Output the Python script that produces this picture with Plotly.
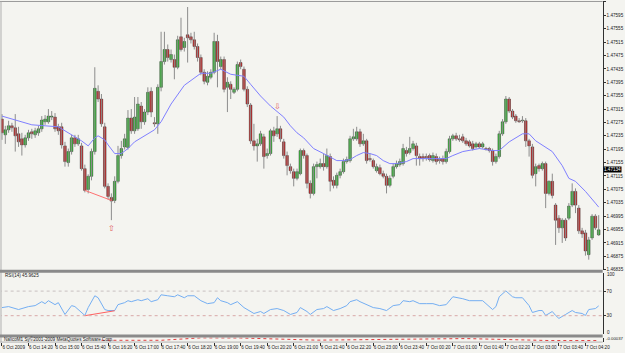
import plotly.graph_objects as go

W, H = 625, 353

# ---------------- data ----------------
x_tick_idx = [0, 8, 16, 24, 32, 40, 48, 56, 64, 72, 80, 88, 96, 104, 112,
              120, 128, 136, 144, 152, 160, 168, 176]
x_tick_text = ["6 Oct 2009", "6 Oct 14:20", "6 Oct 15:00", "6 Oct 15:40",
               "6 Oct 16:20", "6 Oct 17:00", "6 Oct 17:40", "6 Oct 18:20",
               "6 Oct 19:00", "6 Oct 19:40", "6 Oct 20:20", "6 Oct 21:00",
               "6 Oct 21:40", "6 Oct 22:20", "6 Oct 23:00", "6 Oct 23:40",
               "7 Oct 00:20", "7 Oct 01:00", "7 Oct 01:40", "7 Oct 02:20",
               "7 Oct 03:00", "7 Oct 03:40", "7 Oct 04:20"]

price_ticks = [1.46835, 1.46875, 1.46915, 1.46955, 1.46995, 1.47035, 1.47075,
               1.47115, 1.47155, 1.47195, 1.47235, 1.47275, 1.47315, 1.47355,
               1.47395, 1.47435, 1.47475, 1.47515, 1.47555, 1.47595, 1.47635]
price_tick_text = ["1.46835", "1.46875", "1.46915", "1.46955", "1.46995",
                   "1.47035", "1.47075", "1.47115", "1.47155", "1.47195",
                   "1.47235", "1.47275", "1.47315", "1.47355", "1.47395",
                   "1.47435", "1.47475", "1.47515", "1.47555", "1.47595",
                   "1.47635"]

opens = [
    1.47285, 1.47238, 1.47253, 1.47265, 1.47259, 1.47241, 1.47226, 1.47208, 1.47229, 1.47247,
    1.47238, 1.47244, 1.47256, 1.47277, 1.47277, 1.47291, 1.47291, 1.47262, 1.47262, 1.47205,
    1.47155, 1.47188, 1.47229, 1.47211, 1.47205, 1.47137, 1.47075, 1.47114, 1.47188, 1.47368,
    1.47345, 1.47262, 1.47084, 1.47051, 1.47042, 1.47099, 1.47176, 1.47202, 1.47200, 1.47288,
    1.47250, 1.47256, 1.47324, 1.47277, 1.47306, 1.47368, 1.47274, 1.47271, 1.47380, 1.47457,
    1.47493, 1.47463, 1.47463, 1.47440, 1.47531, 1.47499, 1.47537, 1.47531, 1.47522, 1.47502,
    1.47469, 1.47425, 1.47395, 1.47410, 1.47425, 1.47517, 1.47442, 1.47463, 1.47380, 1.47389,
    1.47365, 1.47374, 1.47454, 1.47434, 1.47374, 1.47327, 1.47220, 1.47205, 1.47211, 1.47232,
    1.47176, 1.47182, 1.47250, 1.47241, 1.47256, 1.47217, 1.47176, 1.47143, 1.47128, 1.47108,
    1.47122, 1.47191, 1.47176, 1.47093, 1.47063, 1.47143, 1.47143, 1.47152, 1.47143, 1.47173,
    1.47102, 1.47087, 1.47117, 1.47128, 1.47158, 1.47161, 1.47226, 1.47226, 1.47247, 1.47211,
    1.47220, 1.47167, 1.47161, 1.47131, 1.47140, 1.47122, 1.47114, 1.47087, 1.47114, 1.47143,
    1.47149, 1.47152, 1.47191, 1.47185, 1.47197, 1.47205, 1.47173, 1.47173, 1.47173, 1.47176,
    1.47161, 1.47173, 1.47164, 1.47167, 1.47158, 1.47188, 1.47226, 1.47235, 1.47226, 1.47232,
    1.47220, 1.47217, 1.47211, 1.47202, 1.47211, 1.47202, 1.47197, 1.47197, 1.47191, 1.47158,
    1.47173, 1.47241, 1.47277, 1.47345, 1.47309, 1.47294, 1.47280, 1.47280, 1.47280, 1.47220,
    1.47202, 1.47122, 1.47146, 1.47137, 1.47152, 1.47063, 1.47099, 1.47028, 1.46989, 1.46960,
    1.46983, 1.46989, 1.47028, 1.47069, 1.47019, 1.46951, 1.46945, 1.46880, 1.46930, 1.46995,
    1.46939]
highs = [
    1.47300, 1.47265, 1.47280, 1.47274, 1.47300, 1.47262, 1.47244, 1.47238, 1.47253, 1.47256,
    1.47259, 1.47265, 1.47294, 1.47297, 1.47315, 1.47309, 1.47303, 1.47271, 1.47274, 1.47217,
    1.47197, 1.47238, 1.47238, 1.47238, 1.47214, 1.47149, 1.47120, 1.47197, 1.47440, 1.47386,
    1.47360, 1.47274, 1.47093, 1.47063, 1.47114, 1.47205, 1.47220, 1.47241, 1.47312, 1.47315,
    1.47351, 1.47351, 1.47336, 1.47315, 1.47380, 1.47380, 1.47291, 1.47389, 1.47546, 1.47546,
    1.47508, 1.47493, 1.47478, 1.47534, 1.47588, 1.47528, 1.47620, 1.47543, 1.47546, 1.47511,
    1.47478, 1.47434, 1.47428, 1.47434, 1.47543, 1.47537, 1.47472, 1.47472, 1.47410, 1.47398,
    1.47380, 1.47457, 1.47463, 1.47442, 1.47383, 1.47333, 1.47271, 1.47226, 1.47250, 1.47241,
    1.47197, 1.47256, 1.47262, 1.47294, 1.47265, 1.47226, 1.47188, 1.47152, 1.47137, 1.47137,
    1.47197, 1.47197, 1.47182, 1.47102, 1.47152, 1.47158, 1.47167, 1.47182, 1.47197, 1.47182,
    1.47114, 1.47125, 1.47137, 1.47167, 1.47173, 1.47235, 1.47256, 1.47262, 1.47256, 1.47241,
    1.47226, 1.47182, 1.47167, 1.47152, 1.47149, 1.47131, 1.47122, 1.47117, 1.47152, 1.47161,
    1.47167, 1.47211, 1.47202, 1.47232, 1.47220, 1.47214, 1.47182, 1.47182, 1.47182, 1.47182,
    1.47185, 1.47182, 1.47173, 1.47176, 1.47197, 1.47235, 1.47241, 1.47244, 1.47238, 1.47241,
    1.47229, 1.47223, 1.47220, 1.47217, 1.47217, 1.47217, 1.47202, 1.47202, 1.47197, 1.47182,
    1.47250, 1.47285, 1.47354, 1.47351, 1.47315, 1.47300, 1.47288, 1.47294, 1.47288, 1.47226,
    1.47211, 1.47152, 1.47152, 1.47158, 1.47158, 1.47102, 1.47122, 1.47034, 1.46998, 1.46989,
    1.46989, 1.47034, 1.47093, 1.47078, 1.47028, 1.46960, 1.46954, 1.46933, 1.47001, 1.47001,
    1.46998]
lows = [
    1.47223, 1.47211, 1.47244, 1.47247, 1.47188, 1.47202, 1.47176, 1.47200, 1.47220, 1.47226,
    1.47229, 1.47235, 1.47247, 1.47268, 1.47271, 1.47282, 1.47247, 1.47238, 1.47197, 1.47143,
    1.47143, 1.47179, 1.47202, 1.47205, 1.47131, 1.47066, 1.47063, 1.47102, 1.47179, 1.47336,
    1.47262, 1.47078, 1.47045, 1.46983, 1.47034, 1.47093, 1.47167, 1.47194, 1.47194, 1.47241,
    1.47241, 1.47250, 1.47256, 1.47268, 1.47297, 1.47291, 1.47262, 1.47241, 1.47368, 1.47448,
    1.47457, 1.47454, 1.47404, 1.47434, 1.47487, 1.47487, 1.47454, 1.47511, 1.47493, 1.47457,
    1.47416, 1.47389, 1.47386, 1.47404, 1.47419, 1.47380, 1.47434, 1.47365, 1.47306, 1.47345,
    1.47360, 1.47368, 1.47434, 1.47368, 1.47321, 1.47211, 1.47191, 1.47158, 1.47205, 1.47137,
    1.47167, 1.47176, 1.47217, 1.47232, 1.47217, 1.47167, 1.47117, 1.47122, 1.47084, 1.47102,
    1.47117, 1.47167, 1.47078, 1.47048, 1.47057, 1.47108, 1.47137, 1.47131, 1.47137, 1.47069,
    1.47078, 1.47078, 1.47108, 1.47122, 1.47152, 1.47155, 1.47220, 1.47220, 1.47202, 1.47205,
    1.47152, 1.47158, 1.47137, 1.47125, 1.47117, 1.47108, 1.47063, 1.47081, 1.47108, 1.47137,
    1.47143, 1.47146, 1.47173, 1.47179, 1.47191, 1.47146, 1.47146, 1.47158, 1.47161, 1.47158,
    1.47155, 1.47149, 1.47152, 1.47149, 1.47152, 1.47182, 1.47220, 1.47220, 1.47217, 1.47214,
    1.47205, 1.47200, 1.47191, 1.47197, 1.47197, 1.47197, 1.47191, 1.47185, 1.47146, 1.47152,
    1.47167, 1.47235, 1.47271, 1.47303, 1.47285, 1.47274, 1.47274, 1.47274, 1.47202, 1.47173,
    1.47108, 1.47084, 1.47128, 1.47131, 1.47019, 1.47057, 1.47048, 1.46909, 1.46945, 1.46915,
    1.46921, 1.46983, 1.47022, 1.47004, 1.46942, 1.46930, 1.46877, 1.46865, 1.46924, 1.46954,
    1.46936]
closes = [
    1.47244, 1.47253, 1.47265, 1.47259, 1.47235, 1.47217, 1.47208, 1.47229, 1.47244, 1.47241,
    1.47250, 1.47256, 1.47282, 1.47285, 1.47294, 1.47294, 1.47256, 1.47250, 1.47208, 1.47158,
    1.47188, 1.47229, 1.47211, 1.47226, 1.47137, 1.47072, 1.47114, 1.47188, 1.47377, 1.47345,
    1.47271, 1.47084, 1.47054, 1.47040, 1.47099, 1.47176, 1.47197, 1.47226, 1.47288, 1.47250,
    1.47291, 1.47330, 1.47277, 1.47306, 1.47365, 1.47306, 1.47271, 1.47380, 1.47457, 1.47493,
    1.47469, 1.47478, 1.47440, 1.47522, 1.47493, 1.47517, 1.47528, 1.47522, 1.47502, 1.47469,
    1.47425, 1.47398, 1.47413, 1.47425, 1.47517, 1.47457, 1.47463, 1.47374, 1.47395, 1.47374,
    1.47374, 1.47448, 1.47442, 1.47374, 1.47330, 1.47220, 1.47205, 1.47211, 1.47241, 1.47173,
    1.47182, 1.47250, 1.47235, 1.47256, 1.47226, 1.47176, 1.47146, 1.47131, 1.47108, 1.47128,
    1.47191, 1.47176, 1.47093, 1.47063, 1.47143, 1.47149, 1.47152, 1.47143, 1.47176, 1.47099,
    1.47087, 1.47117, 1.47128, 1.47158, 1.47164, 1.47226, 1.47232, 1.47247, 1.47211, 1.47220,
    1.47161, 1.47164, 1.47143, 1.47143, 1.47122, 1.47114, 1.47087, 1.47108, 1.47143, 1.47152,
    1.47158, 1.47197, 1.47182, 1.47197, 1.47211, 1.47176, 1.47167, 1.47167, 1.47170, 1.47164,
    1.47176, 1.47158, 1.47161, 1.47158, 1.47188, 1.47226, 1.47235, 1.47226, 1.47223, 1.47220,
    1.47211, 1.47205, 1.47197, 1.47211, 1.47202, 1.47211, 1.47194, 1.47191, 1.47158, 1.47173,
    1.47241, 1.47277, 1.47345, 1.47309, 1.47291, 1.47280, 1.47277, 1.47280, 1.47220, 1.47205,
    1.47117, 1.47143, 1.47137, 1.47152, 1.47063, 1.47099, 1.47057, 1.46983, 1.46960, 1.46983,
    1.46930, 1.47025, 1.47069, 1.47028, 1.46951, 1.46942, 1.46891, 1.46924, 1.46995, 1.46960,
    1.46954]

# moving average (blue line) read at sample bars
ma_idx = [0, 5, 9, 13, 17, 19, 24, 26, 28, 29, 31, 32, 34, 36, 38, 40, 44, 46, 48, 51,
          55, 58, 60, 63, 66, 69, 71, 73, 75, 78, 81, 83, 85, 87, 89, 91, 94, 97, 101, 103,
          105, 107, 109, 111, 113, 115, 117, 119, 122, 124, 127, 134, 136, 139, 144, 148, 150, 153, 157, 159,
          161, 166, 169, 171, 173, 176, 179, 180]
ma_val = [1.47294, 1.47280, 1.47268, 1.47265, 1.47262, 1.47250, 1.47220, 1.47205, 1.47229, 1.47235,
          1.47223, 1.47208, 1.47182, 1.47182, 1.47197, 1.47217, 1.47241, 1.47253, 1.47277, 1.47330,
          1.47386, 1.47407, 1.47422, 1.47422, 1.47434, 1.47419, 1.47416, 1.47413, 1.47389, 1.47354,
          1.47324, 1.47306, 1.47291, 1.47265, 1.47244, 1.47229, 1.47197, 1.47182, 1.47161, 1.47161,
          1.47164, 1.47176, 1.47185, 1.47182, 1.47176, 1.47161, 1.47152, 1.47152, 1.47158, 1.47167,
          1.47167, 1.47167, 1.47176, 1.47188, 1.47197, 1.47191, 1.47191, 1.47217, 1.47241, 1.47241,
          1.47220, 1.47188, 1.47146, 1.47108, 1.47099, 1.47069, 1.47034, 1.47022]

# RSI(14) read at sample bars
rsi_idx = [0, 2, 5, 8, 10, 12, 13, 14, 16, 17, 19, 21, 22, 25, 26, 28, 29, 31, 32, 34,
           35, 37, 38, 39, 41, 42, 44, 45, 47, 48, 50, 52, 53, 55, 56, 58, 60, 62, 64, 65,
           66, 68, 69, 71, 73, 76, 78, 79, 81, 83, 85, 87, 89, 90, 92, 93, 95, 97, 98, 100,
           102, 104, 105, 107, 108, 110, 112, 114, 116, 118, 120, 121, 123, 124, 126, 128, 130, 132, 134, 136,
           138, 139, 141, 143, 145, 146, 148, 149, 150, 152, 154, 155, 157, 159, 160, 162, 163, 164, 166, 167,
           168, 170, 172, 173, 175, 176, 177, 179, 180]
rsi_val = [43.2, 44.8, 40.0, 44.8, 46.4, 52.8, 49.6, 54.4, 48.0, 51.2, 32.0, 46.4, 44.8, 30.4, 43.2, 62.4, 59.2, 40.0, 38.4, 38.4,
           48.0, 51.2, 54.4, 52.8, 56.0, 54.4, 57.6, 52.8, 56.0, 64.0, 62.4, 60.8, 64.0, 59.2, 62.4, 62.4, 54.4, 49.6, 51.2, 59.2,
           54.4, 51.2, 48.0, 52.8, 43.2, 33.6, 36.8, 33.6, 40.0, 41.6, 38.4, 32.0, 35.2, 43.2, 36.8, 32.0, 40.0, 41.6, 44.8, 38.4,
           41.6, 46.4, 52.8, 56.0, 52.8, 48.0, 43.2, 41.6, 38.4, 46.4, 48.0, 54.4, 52.8, 54.4, 49.6, 49.6, 49.6, 46.4, 48.0, 60.8,
           59.2, 57.6, 54.4, 54.4, 54.4, 49.6, 40.0, 44.8, 60.8, 70.4, 60.8, 59.2, 59.2, 46.4, 35.2, 38.4, 38.4, 30.4, 36.8, 30.4,
           25.6, 32.0, 38.4, 35.2, 33.6, 30.4, 40.0, 41.6, 46.0]
rsi_label = "RSI(14) 45.9625"

# divergence lines and signal arrows
div_price_idx = [25, 33]
div_price_val = [1.47072, 1.47042]
div_rsi_idx = [25, 34]
div_rsi_val = [30.0, 38.0]
arrow_up_idx, arrow_up_val = 33, 1.46957
arrow_dn_idx, arrow_dn_val = 83, 1.47324
last_price_text = "1.47134"
last_price_val = 1.47134

# bottom mini indicator (red dotted)
ind_idx = [30, 48, 60, 72, 95, 110, 140, 165, 180]
ind_val = [-0.00012, -0.00012, 0.00026, 0.00024, -0.00010, 0.00001, 0.00015, -0.00016, -0.00016]
ind_label = "-0.00037"
footer_text = "NalicoM1 Sy\u00a92001-2009 MetaQuotes Software Corp."

# ---------------- styling helpers ----------------
def py(p):
    return 1 - p / H

def px(p):
    return p / W

BG = "#f4f4f0"
FONT = "Liberation Sans"
TXT = "#202020"
n = len(opens)
idx = list(range(n))

body_base = [min(o, c) for o, c in zip(opens, closes)]
body_h = [max(abs(c - o), 0.000018) for o, c in zip(opens, closes)]
body_col = ["#22cc22" if c >= o else "#dd1111" for o, c in zip(opens, closes)]

wx, wy = [], []
for i, lo, hi in zip(idx, lows, highs):
    wx += [i, i, None]
    wy += [lo, hi, None]

fig = go.Figure()
fig.add_trace(go.Scatter(x=wx, y=wy, mode="lines", line=dict(color="#8c8c8c", width=1),
                         xaxis="x", yaxis="y", hoverinfo="skip"))
fig.add_trace(go.Bar(x=idx, y=body_h, base=body_base, width=0.78,
                     marker=dict(color=body_col, line=dict(color="#303030", width=0.5)),
                     xaxis="x", yaxis="y"))
fig.add_trace(go.Scatter(x=ma_idx, y=ma_val, mode="lines", line=dict(color="#7f7fff", width=1),
                         xaxis="x", yaxis="y"))
fig.add_trace(go.Scatter(x=div_price_idx, y=div_price_val, mode="lines",
                         line=dict(color="#ff7070", width=1), xaxis="x", yaxis="y"))
fig.add_trace(go.Scatter(x=rsi_idx, y=rsi_val, mode="lines", line=dict(color="#74aef2", width=1),
                         xaxis="x2", yaxis="y2"))
fig.add_trace(go.Scatter(x=div_rsi_idx, y=div_rsi_val, mode="lines",
                         line=dict(color="#ff6060", width=1), xaxis="x2", yaxis="y2"))
fig.add_trace(go.Scatter(x=[-1, 190], y=[70, 70], mode="lines",
                         line=dict(color="#c8c0c0", width=1, dash="dot"), xaxis="x2", yaxis="y2"))
fig.add_trace(go.Scatter(x=[-1, 190], y=[30, 30], mode="lines",
                         line=dict(color="#d8a8a8", width=1, dash="dot"), xaxis="x2", yaxis="y2"))
fig.add_trace(go.Scatter(x=ind_idx, y=ind_val, mode="lines",
                         line=dict(color="#e04040", width=1, dash="dot"), xaxis="x3", yaxis="y3"))

xdom = [px(1), px(609.5)]
xr = [-0.3, 181.2]
tfont = dict(size=4.6, family=FONT, color=TXT)
fig.update_layout(
    width=W, height=H, margin=dict(l=0, r=0, t=0, b=0),
    paper_bgcolor=BG, plot_bgcolor=BG, showlegend=False,
    font=dict(family=FONT, size=5, color=TXT),
    xaxis=dict(domain=xdom, range=xr, anchor="y", showticklabels=False, showgrid=False,
               zeroline=False, fixedrange=True),
    yaxis=dict(domain=[py(272), py(1.5)], range=[1.46835, 1.476365], side="right",
               tickvals=price_ticks, ticktext=price_tick_text, ticks="outside", ticklen=2,
               tickcolor="#303030", tickfont=tfont,
               showgrid=False, zeroline=False, showline=True, linecolor="#303030", linewidth=1),
    xaxis2=dict(domain=xdom, range=xr, anchor="y2", matches="x", showticklabels=False,
                showgrid=False, zeroline=False),
    yaxis2=dict(domain=[py(337), py(275)], range=[0, 100], side="right",
                tickvals=[70, 30], ticktext=["70", "30"], ticks="outside", ticklen=2,
                tickcolor="#303030", tickfont=tfont,
                showgrid=False, zeroline=False, showline=True, linecolor="#303030", linewidth=1),
    xaxis3=dict(domain=xdom, range=xr, anchor="y3", matches="x", tickvals=x_tick_idx,
                ticktext=x_tick_text, ticks="outside", ticklen=3, tickcolor="#303030",
                ticklabelposition="outside right", tickangle=0,
                tickfont=tfont, showgrid=False, zeroline=False, showline=False),
    yaxis3=dict(domain=[py(345), py(340.5)], range=[-0.0004, 0.0003], side="right",
                showticklabels=False, ticks="", showgrid=False, zeroline=False,
                showline=True, linecolor="#303030", linewidth=1),
)

shapes = [
    dict(type="line", xref="paper", yref="paper", x0=0, x1=px(609.5), y0=py(1.5), y1=py(1.5),
         line=dict(color="#9a9a9a", width=1)),
    dict(type="line", xref="paper", yref="paper", x0=px(1), x1=px(1), y0=py(345), y1=py(1.5),
         line=dict(color="#b0b0b0", width=1)),
    dict(type="line", xref="paper", yref="paper", x0=0, x1=px(609.5), y0=py(273.5), y1=py(273.5),
         line=dict(color="#8a8a8a", width=3)),
    dict(type="line", xref="paper", yref="paper", x0=0, x1=px(609.5), y0=py(339), y1=py(339),
         line=dict(color="#8a8a8a", width=3)),
    dict(type="line", xref="paper", yref="paper", x0=0, x1=px(609.5), y0=py(345), y1=py(345),
         line=dict(color="#b0b0b0", width=1)),
]
fig.update_layout(shapes=shapes)

ann = [
    dict(text=rsi_label, xref="paper", yref="paper", x=px(3), y=py(278), xanchor="left",
         yanchor="middle", showarrow=False, font=tfont),
    dict(text="100", xref="paper", yref="paper", x=px(612), y=py(277), xanchor="left",
         yanchor="middle", showarrow=False, font=tfont),
    dict(text="0", xref="paper", yref="paper", x=px(612), y=py(335), xanchor="left",
         yanchor="middle", showarrow=False, font=tfont),
    dict(text=ind_label, xref="paper", yref="paper", x=px(611), y=py(341.5), xanchor="left",
         yanchor="middle", showarrow=False, font=dict(size=4.3, family=FONT, color=TXT)),
    dict(text=footer_text, xref="paper", yref="paper", x=px(2), y=py(342), xanchor="left",
         yanchor="middle", showarrow=False, font=tfont),
    dict(text=last_price_text, xref="paper", yref="y", x=px(610), y=last_price_val,
         xanchor="left", yanchor="middle", showarrow=False, bgcolor="#000000",
         font=dict(size=4.6, family=FONT, color="#ffffff"), borderpad=0),
    dict(text="\u21e7", xref="x", yref="y", x=arrow_up_idx, y=arrow_up_val, showarrow=False,
         font=dict(size=8, family="DejaVu Sans", color="#e05a5a")),
    dict(text="\u21e9", xref="x", yref="y", x=arrow_dn_idx, y=arrow_dn_val, showarrow=False,
         font=dict(size=8, family="DejaVu Sans", color="#e05a5a")),
]
fig.update_layout(annotations=ann)

fig.write_html("out.html")
